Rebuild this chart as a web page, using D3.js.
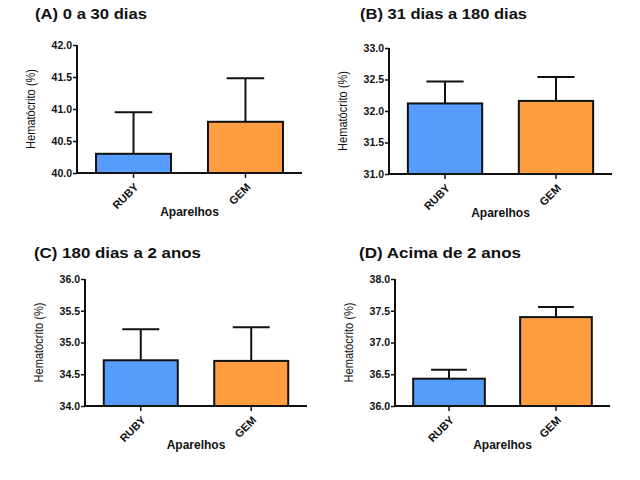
<!DOCTYPE html>
<html><head><meta charset="utf-8">
<script src="https://cdn.jsdelivr.net/npm/d3@7"></script>
<style>body{margin:0;background:#fff;}svg{display:block;font-family:"Liberation Sans",Arial,sans-serif;}</style>
</head><body><svg id="c" width="640" height="480"></svg>
<script>
const categories = ["RUBY", "GEM"];
const titles = ["(A) 0 a 30 dias", "(B) 31 dias a 180 dias", "(C) 180 dias a 2 anos", "(D) Acima de 2 anos"];
const means = [[40.30, 40.80], [32.12, 32.16], [34.72, 34.71], [36.43, 37.40]];
const errors = [[0.65, 0.68], [0.35, 0.38], [0.49, 0.53], [0.14, 0.16]];
const yDomains = [[40, 42], [31, 33], [34, 36], [36, 38]];
const yTicks = [[40.0, 40.5, 41.0, 41.5, 42.0], [31.0, 31.5, 32.0, 32.5, 33.0], [34.0, 34.5, 35.0, 35.5, 36.0], [36.0, 36.5, 37.0, 37.5, 38.0]];
const colors = ["#559cfc", "#ff9e40"];
const yLabel = "Hematócrito (%)";
const xLabel = "Aparelhos";

const layout = [
  {tx: 35, ty: 19, tw: 112, x0: 77, x1: 302, yTop: 45, yBot: 173},
  {tx: 360, ty: 19, tw: 167, x0: 389, x1: 612, yTop: 48, yBot: 174},
  {tx: 34, ty: 258, tw: 167, x0: 85, x1: 307, yTop: 279, yBot: 406},
  {tx: 359, ty: 258, tw: 162, x0: 395, x1: 610, yTop: 279, yBot: 406}
];

const svg = d3.select("#c");
titles.forEach((t, i) => {
  const L = layout[i];
  const g = svg.append("g");
  g.append("text").attr("x", L.tx).attr("y", L.ty).attr("font-size", 15.5).attr("font-weight", "bold").attr("fill", "#111")
    .attr("textLength", L.tw).attr("lengthAdjust", "spacingAndGlyphs").text(t);
  const y = d3.scaleLinear().domain(yDomains[i]).range([L.yBot, L.yTop]);
  const x = d3.scaleBand().domain(categories).range([L.x0, L.x1]).paddingInner(0.33).paddingOuter(0.17);
  const bw = x.bandwidth();
  categories.forEach((c, j) => {
    const cx = x(c) + bw / 2;
    const top = y(means[i][j] + errors[i][j]);
    g.append("line").attr("x1", cx).attr("x2", cx).attr("y1", y(means[i][j])).attr("y2", top).attr("stroke", "#111").attr("stroke-width", 2);
    g.append("line").attr("x1", cx - bw / 4).attr("x2", cx + bw / 4).attr("y1", top).attr("y2", top).attr("stroke", "#111").attr("stroke-width", 2);
    g.append("rect").attr("x", x(c)).attr("y", y(means[i][j])).attr("width", bw).attr("height", y(yDomains[i][0]) - y(means[i][j]))
      .attr("fill", colors[j]).attr("stroke", "#111").attr("stroke-width", 2);
  });
  // y axis
  const ya = d3.axisLeft(y).tickValues(yTicks[i]).tickFormat(d3.format(".1f")).tickSize(4).tickPadding(1);
  const yg = g.append("g").attr("transform", `translate(${L.x0},0)`).call(ya);
  yg.select(".domain").attr("stroke", "#111").attr("stroke-width", 2).attr("d", `M0,${L.yTop}V${L.yBot}`);
  yg.selectAll(".tick line").attr("stroke", "#111").attr("stroke-width", 1.5);
  yg.selectAll(".tick text").attr("font-size", 10.5).attr("fill", "#111").attr("font-family", "'Liberation Sans',Arial,sans-serif").attr("font-weight", "bold");
  // x axis
  const xa = d3.axisBottom(x).tickSize(5).tickPadding(4);
  const xg = g.append("g").attr("transform", `translate(0,${L.yBot})`).call(xa);
  xg.select(".domain").attr("stroke", "#111").attr("stroke-width", 2).attr("d", `M${L.x0},0H${L.x1}`);
  xg.selectAll(".tick line").attr("stroke", "#111").attr("stroke-width", 1.5);
  xg.selectAll(".tick text").attr("font-size", 11).attr("fill", "#111").attr("font-weight", "bold")
    .attr("font-family", "'Liberation Sans',Arial,sans-serif")
    .attr("x", 0).attr("y", 0)
    .attr("text-anchor", "end").attr("dy", "0.35em").attr("transform", "translate(3,12) rotate(-45)");
  // axis labels
  g.append("text").attr("x", (L.x0 + L.x1) / 2).attr("y", L.yBot + 43).attr("text-anchor", "middle")
    .attr("font-size", 12).attr("font-weight", "bold").attr("fill", "#111").text(xLabel);
  g.append("text").attr("transform", `translate(${L.x0 - 42},${(L.yTop + L.yBot) / 2}) rotate(-90)`).attr("text-anchor", "middle")
    .attr("font-size", 13).attr("fill", "#111").attr("textLength", 80).attr("lengthAdjust", "spacingAndGlyphs").text(yLabel);
});
</script></body></html>
